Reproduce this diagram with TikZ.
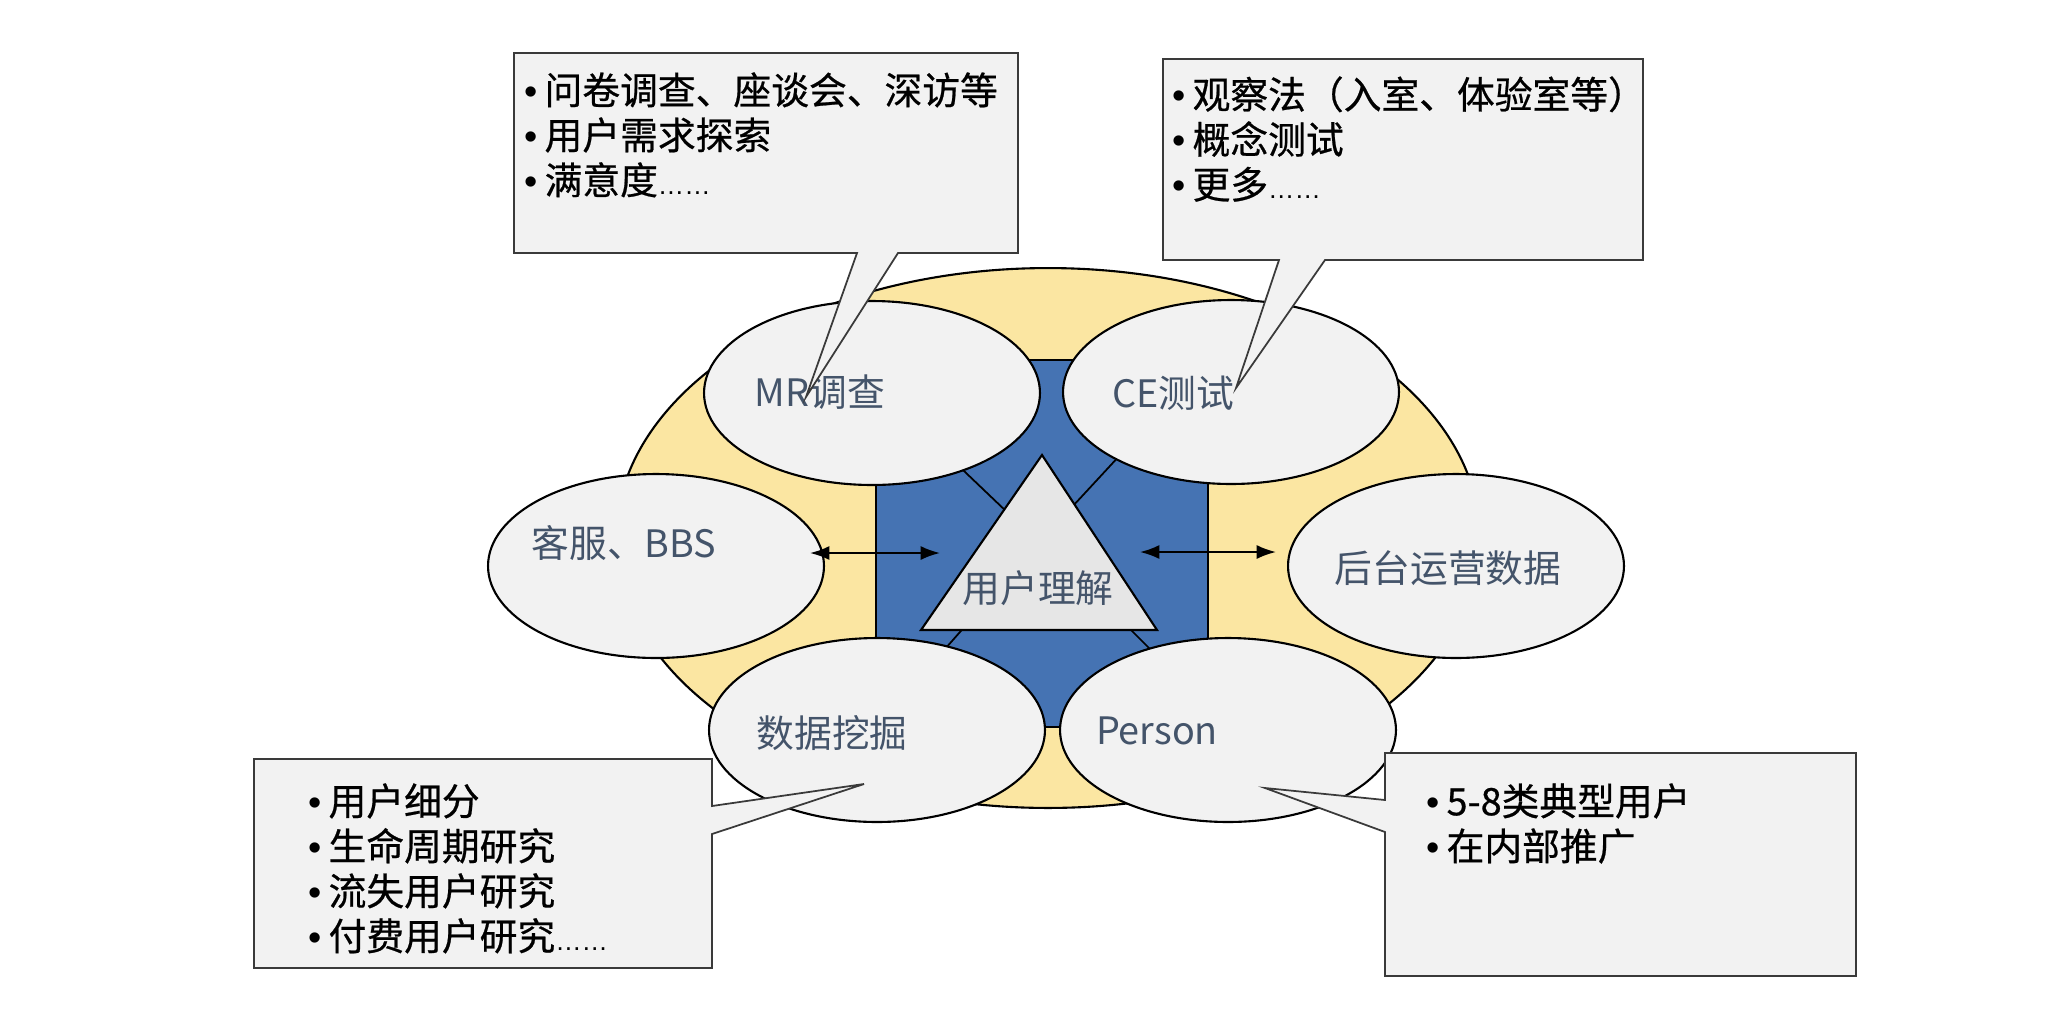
\documentclass[tikz,border=0pt]{standalone}
\usepackage{fontspec}
\setmainfont{Noto Sans CJK SC}
\newfontfamily\dotsfont{Liberation Sans}
\newfontfamily\boxfont[FakeBold=0.6]{Noto Sans CJK SC}
\usetikzlibrary{arrows.meta}
\usetikzlibrary{shapes.geometric}
\definecolor{yel}{HTML}{FBE6A2}
\definecolor{blu}{HTML}{4573B3}
\definecolor{lgray}{HTML}{F2F2F2}
\definecolor{tgray}{HTML}{E6E6E6}
\definecolor{slate}{HTML}{44546A}
\definecolor{dgray}{HTML}{3A3A3A}
\newcommand{\mydots}{{\dotsfont\fontsize{15}{15}\selectfont ……}}
\newcommand{\bul}{{\dotsfont •}\hspace{4pt}}

\begin{document}
\begin{tikzpicture}[x=0.02cm,y=-0.02cm,>/.tip={Latex[length=11pt,width=8pt]},
	ell/.style={ellipse,draw,line width=1.2pt,fill=lgray,minimum width=6.72cm,minimum height=3.68cm},
	lbl/.style={text=slate,font=\fontsize{21.5}{24}\selectfont,inner sep=0pt},
	box/.style={draw=dgray,line width=1pt,fill=lgray,line join=miter},
	txt/.style={font=\boxfont\fontsize{21.5}{25.6}\selectfont,align=left,anchor=north west,inner sep=0pt}]
\useasboundingbox (0,0) rectangle (2070,1012);
\draw[line width=1.2pt,fill=yel] (1048,538) ellipse [x radius=8.64cm,y radius=5.4cm];
\draw[line width=1.2pt,fill=blu] (876,360) rectangle (1208,727);
\foreach \a/\b/\c/\d in {876/387/1030/534,1208/360/1060/520,876/727/975/615,1208/707/1118/617}
	\draw[line width=1pt] (\a,\b) -- (\c,\d);
\draw[line width=1.2pt,fill=tgray] (1042,455) -- (1157,630) -- (921,630) -- cycle;
\node[lbl] (tri) at (1038,588) {用户理解};
\foreach \n/\x/\y in {mr/872/393,ce/1231/392,kf/656/566,ht/1456/566,sj/877/730,ps/1228/730}
	\node[ell] (\n) at (\x,\y) {};
\foreach \n/\x/\y/\t in {mr/820/392/MR调查,ce/1173/393/CE测试,kf/624/543/客服、BBS,ht/1448/568/后台运营数据,sj/832/733/数据挖掘,ps/1157/731/Person}
	\node[lbl] (\n t) at (\x,\y) {\t};
\coordinate (k1) at (810,553);
\coordinate (k2) at (940,553);
\coordinate (h1) at (1140,552);
\coordinate (h2) at (1276,552);
\draw[<->,line width=1.2pt] (k1) -- (k2);
\draw[<->,line width=1.2pt] (h1) -- (h2);
\draw[box] (514,53) -- (1018,53) -- (1018,253) -- (898,253) -- (806,397) -- (857,253) -- (514,253) -- cycle;
\draw[box] (1163,59) -- (1643,59) -- (1643,260) -- (1325,260) -- (1236,388) -- (1279,260) -- (1163,260) -- cycle;
\draw[box] (254,759) -- (712,759) -- (712,806) -- (864,784) -- (712,834) -- (712,968) -- (254,968) -- cycle;
\draw[box] (1385,753) -- (1856,753) -- (1856,976) -- (1385,976) -- (1385,832) -- (1265,788) -- (1385,800) -- cycle;
\node[txt] (tltxt) at (524,72) {\bul 问卷调查、座谈会、深访等\\\bul 用户需求探索\\\bul 满意度\mydots};
\node[txt] (trtxt) at (1172,76) {\bul 观察法（入室、体验室等）\\\bul 概念测试\\\bul 更多\mydots};
\node[txt] (bltxt) at (308,783) {\bul 用户细分\\\bul 生命周期研究\\\bul 流失用户研究\\\bul 付费用户研究\mydots};
\node[txt] (brtxt) at (1426,783) {\bul 5-8类典型用户\\\bul 在内部推广};
\end{tikzpicture}
\end{document}
